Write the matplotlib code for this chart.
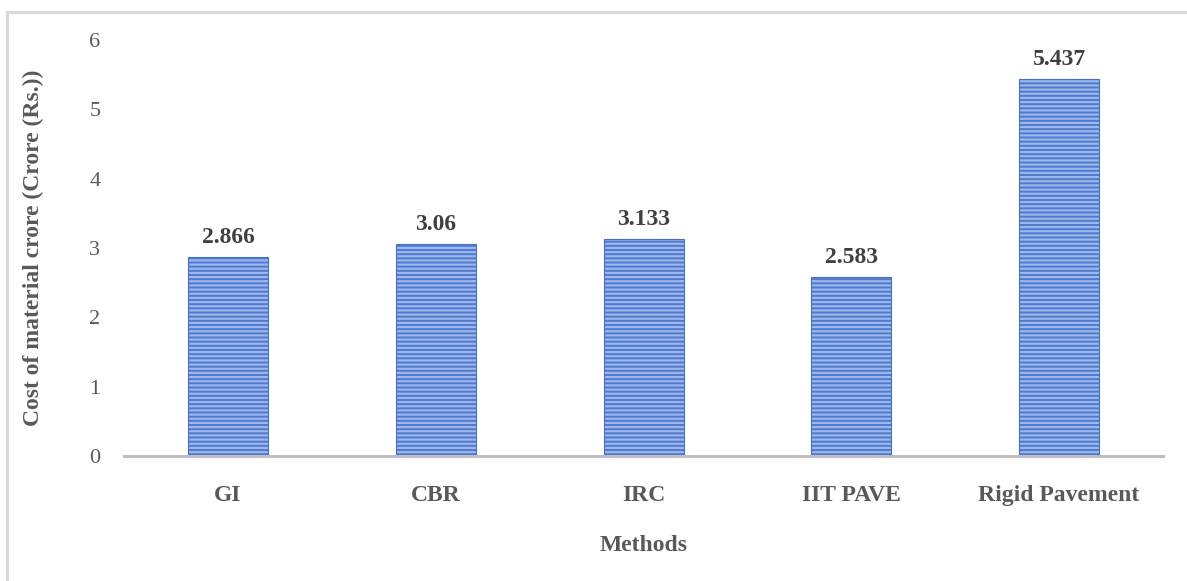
import matplotlib.pyplot as plt
from matplotlib.patches import Rectangle

# cost of material for each design method (crore Rs.)
methods = ['GI', 'CBR', 'IRC', 'IIT PAVE', 'Rigid Pavement']
cost = [2.866, 3.06, 3.133, 2.583, 5.437]
cost_labels = ['2.866', '3.06', '3.133', '2.583', '5.437']

plt.rcParams['font.family'] = ['Liberation Serif', 'DejaVu Serif']
plt.rcParams['hatch.linewidth'] = 1.6

fig = plt.figure(figsize=(11.87, 5.81), dpi=100)
ax = fig.add_axes([0.1045, 0.2151, 0.8753, 0.7161])

# light frame around the chart area
fig.patches.append(Rectangle((7 / 1187, -0.05), 1.1, 1 - 12 / 581 + 0.05,
                             transform=fig.transFigure, fill=False,
                             edgecolor='#D9D9D9', linewidth=2.2, zorder=0))

x = range(len(methods))
bars = ax.bar(x, cost, width=0.385, color='#4E7AD0', edgecolor='#9DB7EB',
              hatch='----', linewidth=0, zorder=2)
# darker outline on top of the stripes
ax.bar(x, cost, width=0.385, fill=False, edgecolor='#4670C4', linewidth=0.8, zorder=3)

for xi, v, s in zip(x, cost, cost_labels):
    ax.text(xi, v + 0.13, s, ha='center', va='bottom', fontsize=17,
            fontweight='bold', color='#404040')

ax.set_xlim(-0.5, len(methods) - 0.5)
ax.set_ylim(0, 6)
ax.set_yticks(range(7))
ax.set_xticks(list(x))
ax.set_xticklabels(methods, fontsize=17, fontweight='bold', color='#595959')
ax.tick_params(axis='y', length=0, labelsize=16, labelcolor='#595959', pad=17)
ax.tick_params(axis='x', length=0, pad=21)

for side in ['top', 'right', 'left']:
    ax.spines[side].set_visible(False)
ax.spines['bottom'].set_color('#BFBFBF')
ax.spines['bottom'].set_linewidth(2.2)
ax.spines['bottom'].set_zorder(4)

ax.set_xlabel('Methods', fontsize=17, fontweight='bold', color='#595959', labelpad=21)
ax.set_ylabel('Cost of material crore (Crore (Rs.))', fontsize=17,
              fontweight='bold', color='#595959')
ax.yaxis.set_label_coords(-0.077, 0.5)

fig.savefig('out.png', dpi=100)
